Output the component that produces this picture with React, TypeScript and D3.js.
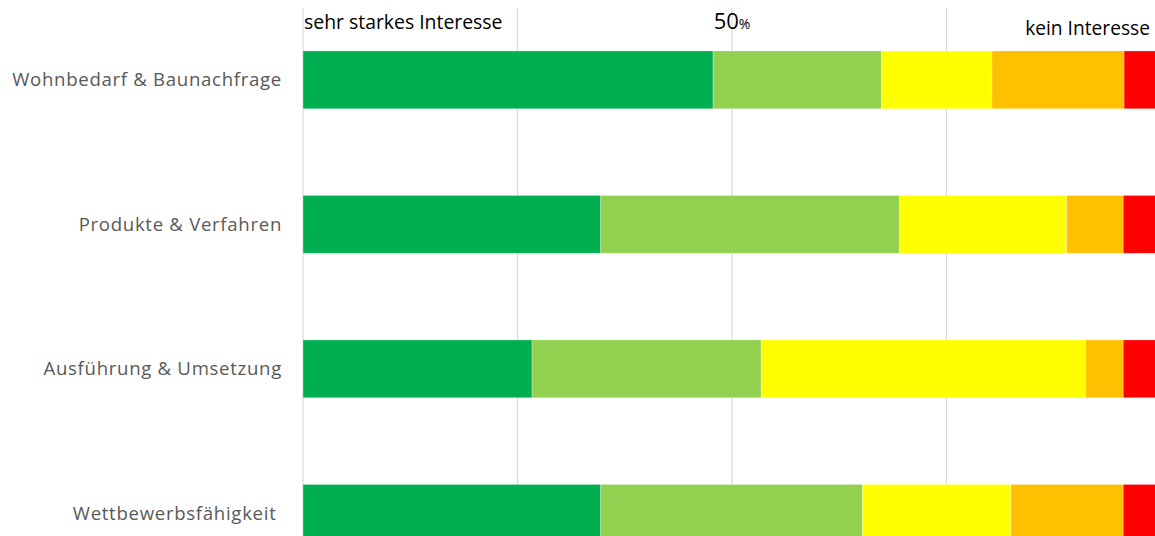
import React, { useEffect, useRef } from 'react';
import * as d3 from 'd3';

const categories = [
  'Wohnbedarf & Baunachfrage',
  'Produkte & Verfahren',
  'Ausführung & Umsetzung',
  'Wettbewerbsfähigkeit ',
];

// shares in percent, from "sehr starkes Interesse" to "kein Interesse"
const level1 = [47.8, 34.7, 26.7, 34.7];
const level2 = [19.6, 34.8, 26.7, 30.5];
const level3 = [12.9, 19.5, 37.8, 17.3];
const level4 = [15.4, 6.6, 4.4, 13.1];
const level5 = [4.3, 4.4, 4.4, 4.4];

const levelKeys = ['l1', 'l2', 'l3', 'l4', 'l5'];
const levelColors = ['#00B050', '#92D050', '#FFFF00', '#FFC000', '#FF0000'];
const gridTicks = [0, 25, 50, 75, 100];

const App = () => {
  const svgRef = useRef<SVGSVGElement>(null);

  useEffect(() => {
    const width = 1155;
    const height = 536;
    const left = 303;
    const right = 1161;

    const svg = d3.select(svgRef.current);
    svg.selectAll('*').remove();
    svg.attr('width', width).attr('height', height);

    const rows = categories.map((c, i) => ({
      cat: c,
      l1: level1[i],
      l2: level2[i],
      l3: level3[i],
      l4: level4[i],
      l5: level5[i],
    }));

    const x = d3.scaleLinear().domain([0, 100]).range([left, right]);
    const y = d3.scaleBand()
      .domain(categories)
      .range([7.6, 7.6 + 144.5 * 4])
      .paddingInner(0.6)
      .paddingOuter(0.3);

    // gridlines
    svg.append('g')
      .selectAll('line')
      .data(gridTicks)
      .enter()
      .append('line')
      .attr('x1', d => x(d))
      .attr('x2', d => x(d))
      .attr('y1', 8)
      .attr('y2', height)
      .attr('stroke', '#D9D9D9')
      .attr('stroke-width', 1.2);

    const stack = d3.stack<any>().keys(levelKeys);
    const series = stack(rows);

    svg.append('g')
      .selectAll('g')
      .data(series)
      .enter()
      .append('g')
      .attr('fill', (_, i) => levelColors[i])
      .selectAll('rect')
      .data(d => d)
      .enter()
      .append('rect')
      .attr('x', d => x(d[0]))
      .attr('y', d => y(d.data.cat) as number)
      .attr('width', d => x(d[1]) - x(d[0]))
      .attr('height', y.bandwidth())
      .attr('stroke', 'rgba(255,255,255,0.35)')
      .attr('stroke-width', 0.8);

    // category labels
    svg.append('g')
      .selectAll('text')
      .data(categories)
      .enter()
      .append('text')
      .attr('x', 282)
      .attr('y', d => (y(d) as number) + y.bandwidth() / 2)
      .attr('dy', '0.35em')
      .attr('text-anchor', 'end')
      .attr('fill', '#595959')
      .style('font-family', '"Open Sans", sans-serif')
      .style('font-size', '18.6px')
      .style('letter-spacing', '0.7px')
      .style('white-space', 'pre')
      .text(d => d);

    // top annotations
    const top = svg.append('g')
      .style('font-family', '"Open Sans", sans-serif')
      .attr('fill', '#000');

    top.append('text')
      .attr('x', x(0) + 1)
      .attr('y', 29)
      .style('font-size', '19.4px')
      .text('sehr starkes Interesse');

    const mid = top.append('text')
      .attr('x', x(50))
      .attr('y', 29)
      .attr('text-anchor', 'middle');
    mid.append('tspan').style('font-size', '22px').text('50');
    mid.append('tspan').style('font-size', '14px').text('%');

    top.append('text')
      .attr('x', 1150)
      .attr('y', 35)
      .attr('text-anchor', 'end')
      .style('font-size', '19.2px')
      .text('kein Interesse');
  }, []);

  return (
    <svg ref={svgRef} style={{ position: 'absolute', left: 0, top: 0 }}></svg>
  );
};

export default App;
